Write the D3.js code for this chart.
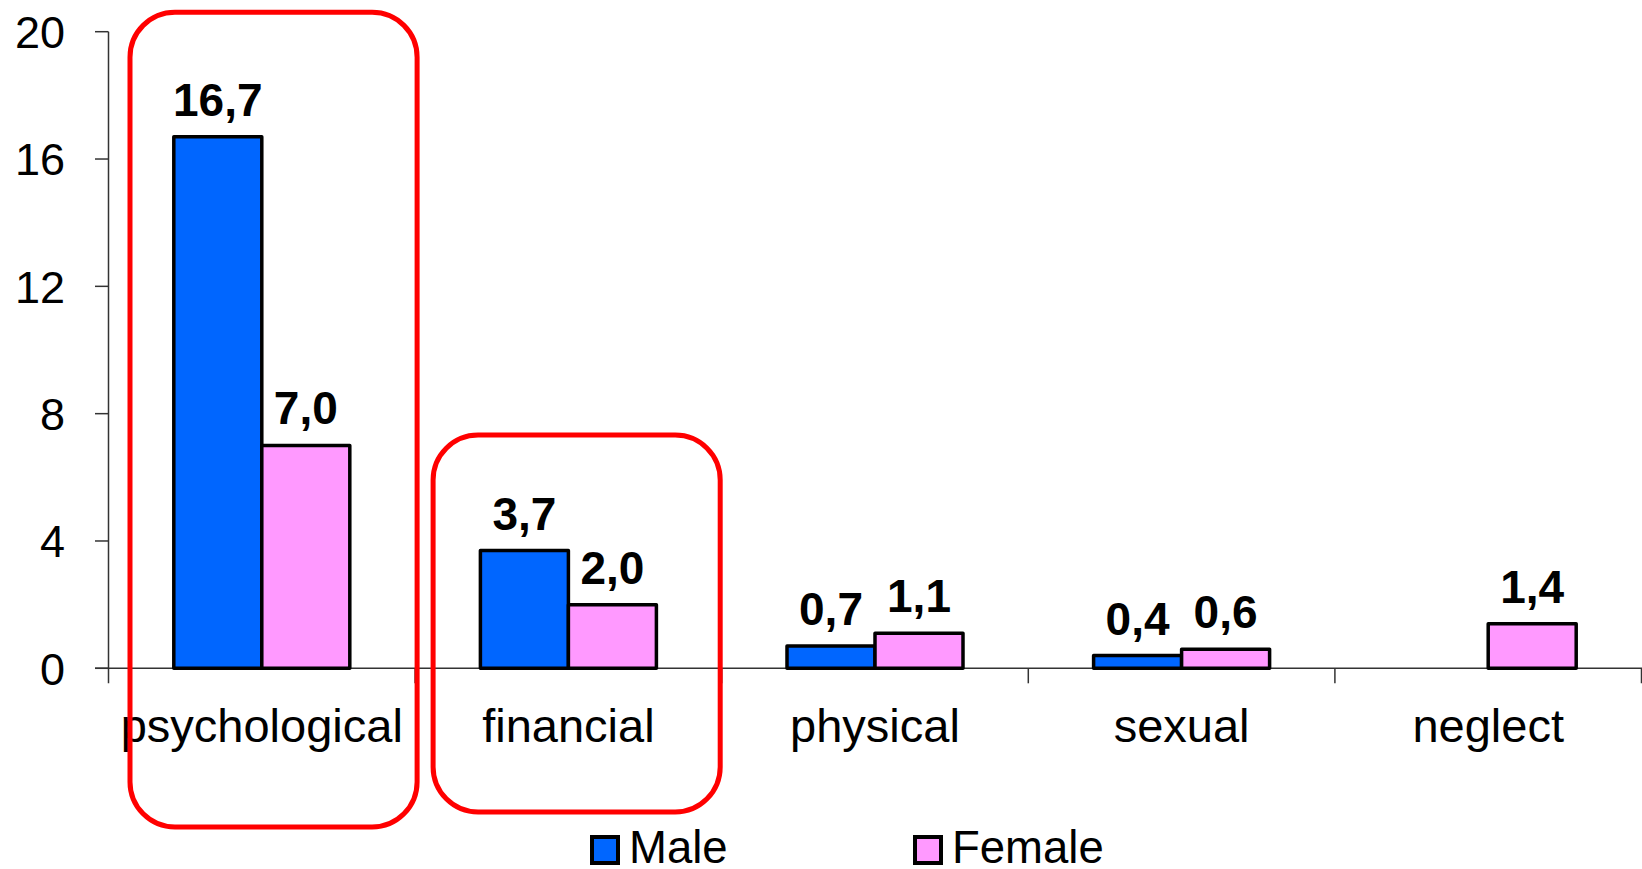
<!DOCTYPE html>
<html>
<head>
<meta charset="utf-8">
<script src="https://cdn.jsdelivr.net/npm/d3@7"></script>
<style>
  html, body { margin: 0; padding: 0; background: #fff; }
  svg { display: block; font-family: "Liberation Sans", Arial, sans-serif; }
</style>
</head>
<body>
<svg id="chart" width="1642" height="869"></svg>
<script>
// data
const categories = ["psychological", "financial", "physical", "sexual", "neglect"];
const series = ["Male", "Female"];
const maleValues = [16.7, 3.7, 0.7, 0.4, null];
const femaleValues = [7.0, 2.0, 1.1, 0.6, 1.4];
const yTicks = [0, 4, 8, 12, 16, 20];
const highlighted = ["psychological", "financial"];

const colors = { Male: "#0066ff", Female: "#ff99ff" };

const svg = d3.select("#chart");

const x = d3.scaleBand()
    .domain(categories)
    .range([108.5, 1641.5]);

const y = d3.scaleLinear()
    .domain([0, 20])
    .range([668.3, 31.7]);

// each pair of bars takes ~58% of the category slot
const xs = d3.scaleBand()
    .domain(series)
    .range([0, x.bandwidth()])
    .paddingInner(0)
    .paddingOuter(0.742);

const fmt = v => d3.format(".1f")(v).replace(".", ",");

// axes
const axisCol = "#333";
const g = svg.append("g");

g.append("line")
    .attr("x1", 95).attr("x2", 1642)
    .attr("y1", y(0)).attr("y2", y(0))
    .attr("stroke", axisCol).attr("stroke-width", 1.5);

g.append("line")
    .attr("x1", x.range()[0]).attr("x2", x.range()[0])
    .attr("y1", y(20)).attr("y2", y(0) + 15)
    .attr("stroke", axisCol).attr("stroke-width", 1.5);

g.selectAll(".ytick").data(yTicks).enter().append("line")
    .attr("x1", 95).attr("x2", x.range()[0])
    .attr("y1", d => y(d)).attr("y2", d => y(d))
    .attr("stroke", axisCol).attr("stroke-width", 1.5);

g.selectAll(".ylab").data(yTicks).enter().append("text")
    .attr("x", 65).attr("y", d => y(d))
    .attr("dy", "0.36em")
    .attr("text-anchor", "end")
    .style("font-size", "45px")
    .text(d => d);

const bounds = categories.map(c => x(c) + x.bandwidth());
g.selectAll(".xtick").data(bounds).enter().append("line")
    .attr("x1", d => d).attr("x2", d => d)
    .attr("y1", y(0)).attr("y2", y(0) + 15)
    .attr("stroke", axisCol).attr("stroke-width", 1.5);

g.selectAll(".xlab").data(categories).enter().append("text")
    .attr("x", d => x(d) + x.bandwidth() / 2)
    .attr("y", 741.7)
    .attr("text-anchor", "middle")
    .style("font-size", "47px")
    .text(d => d);

// bars
const rows = [];
categories.forEach((c, i) => {
  rows.push({ cat: c, s: "Male", v: maleValues[i] });
  rows.push({ cat: c, s: "Female", v: femaleValues[i] });
});
const present = rows.filter(d => d.v != null);

svg.append("g").selectAll("rect").data(present).enter().append("rect")
    .attr("x", d => x(d.cat) + xs(d.s))
    .attr("y", d => y(d.v))
    .attr("width", xs.bandwidth())
    .attr("height", d => y(0) - y(d.v))
    .attr("fill", d => colors[d.s])
    .attr("stroke", "#000")
    .attr("stroke-width", 3.5)
    .attr("stroke-linejoin", "round");

svg.append("g").selectAll("text").data(present).enter().append("text")
    .attr("x", d => x(d.cat) + xs(d.s) + xs.bandwidth() / 2)
    .attr("y", d => y(d.v) - 21)
    .attr("text-anchor", "middle")
    .style("font-size", "46px")
    .style("font-weight", "bold")
    .text(d => fmt(d.v));

// red highlight boxes
const boxGeom = {
  psychological: { dx0: 21.5, dx1: 2, top: y(20) - 19.5, bottom: 827 },
  financial: { dx0: 18, dx1: -1.5, top: 435, bottom: 812 }
};
svg.append("g").selectAll("rect").data(highlighted).enter().append("rect")
    .attr("x", d => x(d) + boxGeom[d].dx0)
    .attr("y", d => boxGeom[d].top)
    .attr("width", d => x.bandwidth() - boxGeom[d].dx0 + boxGeom[d].dx1)
    .attr("height", d => boxGeom[d].bottom - boxGeom[d].top)
    .attr("rx", 45).attr("ry", 45)
    .attr("fill", "none")
    .attr("stroke", "#ff0000")
    .attr("stroke-width", 5);

// legend
const legX = { Male: 592, Female: 915 };
const leg = svg.append("g").selectAll("g").data(series).enter().append("g")
    .attr("transform", d => `translate(${legX[d]},837)`);
leg.append("rect")
    .attr("width", 26).attr("height", 26)
    .attr("fill", d => colors[d])
    .attr("stroke", "#000").attr("stroke-width", 4);
leg.append("text")
    .attr("x", 37).attr("y", 26)
    .style("font-size", "45.5px")
    .text(d => d);
</script>
</body>
</html>
